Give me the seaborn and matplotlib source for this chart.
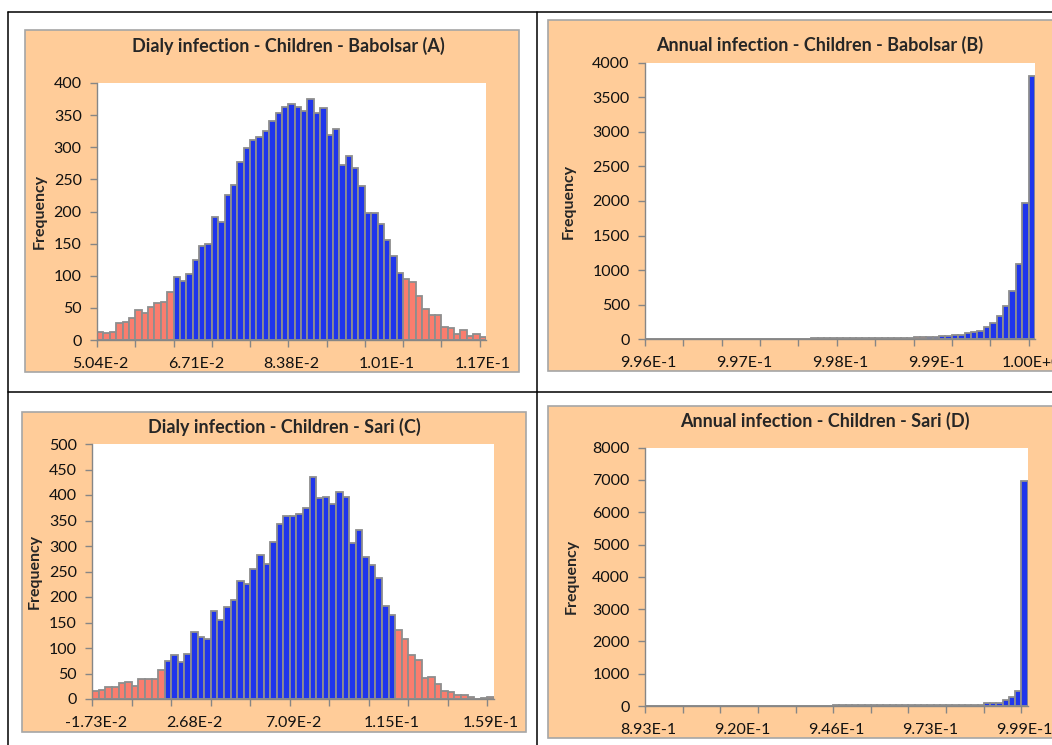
import numpy as np
import pandas as pd
import matplotlib
matplotlib.use('Agg')
import matplotlib.pyplot as plt
import seaborn as sns
from matplotlib.patches import Rectangle
from matplotlib.lines import Line2D

# (A) daily infection - Babolsar
a_title = 'Dialy infection - Children - Babolsar (A)'
a_start, a_step = 0.0504, 0.0167 / 15
a_counts = [13, 11, 13, 26, 28, 35, 46, 42, 51, 57, 59, 75,
            98, 92, 102, 124, 147, 149, 192, 184, 225, 242, 277, 299,
            311, 316, 326, 341, 354, 363, 367, 363, 356, 375, 354, 361,
            319, 328, 272, 287, 268, 240, 198, 197, 181, 155, 131, 104,
            95, 90, 69, 49, 39, 39, 20, 18, 10, 15, 6, 9, 4]
a_tails = (12, 13)
a_xlabels = ['5.04E-2', '6.71E-2', '8.38E-2', '1.01E-1', '1.17E-1']
a_ymax, a_ystep = 400, 50

# (B) annual infection - Babolsar
b_title = 'Annual infection - Children - Babolsar (B)'
b_start, b_step = 0.996, 0.001 / 15
b_counts = [2, 2, 3, 2, 3, 3, 4, 3, 4, 4, 5, 4, 5, 5, 6,
            0,
            6, 7, 6, 7, 8, 8, 9, 10, 10, 11, 12, 12, 13, 14, 15, 16, 17, 18,
            19, 20, 21, 22, 23, 24, 25, 26, 27, 28,
            34, 39, 43, 48, 58, 63, 87, 110, 125, 185, 230, 330, 480, 705,
            1090, 1975, 3810]
b_tails = (44, 0)
b_xlabels = ['9.96E-1', '9.97E-1', '9.98E-1', '9.99E-1', '1.00E+0']
b_ymax, b_ystep = 4000, 500

# (C) daily infection - Sari
c_title = 'Dialy infection - Children - Sari (C)'
c_start, c_step = -0.0173, 0.0441 / 15
c_counts = [16, 18, 24, 24, 32, 34, 26, 40, 40, 40, 57,
            75, 86, 73, 88, 131, 121, 117, 172, 154, 181, 195, 232, 226,
            255, 283, 265, 307, 343, 358, 358, 362, 375, 435, 395, 397, 383,
            405, 396, 305, 331, 279, 262, 238, 182, 165,
            136, 117, 86, 77, 42, 44, 30, 16, 14, 8, 8, 4, 0, 2, 3]
c_tails = (11, 15)
c_xlabels = ['-1.73E-2', '2.68E-2', '7.09E-2', '1.15E-1', '1.59E-1']
c_ymax, c_ystep = 500, 50

# (D) annual infection - Sari
d_title = 'Annual infection - Children - Sari (D)'
d_start, d_step = 0.893, 0.106 / 60
d_counts = [4, 4, 5, 5, 5, 6, 6, 6, 7, 7,
            7, 8, 8, 8, 9, 9, 9, 10, 10, 10,
            11, 11, 12, 12, 13, 13, 14, 14, 15, 15,
            16, 16, 17, 18, 19, 20, 21, 22, 23, 24,
            25, 26, 27, 28, 29, 30, 31, 32, 33, 34, 35,
            25, 28, 30, 90, 92, 80, 178, 275, 470, 6980]
d_tails = (51, 0)
d_xlabels = ['8.93E-1', '9.20E-1', '9.46E-1', '9.73E-1', '9.99E-1']
d_ymax, d_ystep = 8000, 1000

BLUE = '#1f35ec'
PINK = '#fa7d6e'
EDGE = '#8e8e8e'
AXIS = '#868686'
PEACH = '#ffcc99'

sns.set_style('ticks')
plt.rcParams['font.family'] = ['Lato', 'DejaVu Sans']

W, H = 1052, 745
fig = plt.figure(figsize=(W / 100, H / 100), dpi=100)


def fx(x):
    return x / W


def fy(y):
    return 1 - y / H


def draw_panel(box, plot, title_xy, ylab_x, title, start, step, counts,
               tails, xlabels, ymax, ystep):
    # peach chart area
    bx0, by0, bx1, by1 = box
    fig.patches.append(Rectangle((fx(bx0), fy(by1)), fx(bx1 - bx0), (by1 - by0) / H,
                                 transform=fig.transFigure, facecolor=PEACH,
                                 edgecolor='#a6a6a6', linewidth=1.2, zorder=-1))
    px0, py0, px1, py1 = plot
    ax = fig.add_axes([fx(px0), fy(py1), fx(px1 - px0), (py1 - py0) / H])
    ax.set_facecolor('white')

    n = len(counts)
    idx = np.arange(n)
    left, right = tails
    df = pd.DataFrame({'value': start + step * idx, 'count': counts})
    df['part'] = np.where((idx < left) | (idx >= n - right), 'tail', 'body')
    lo, hi = start - step / 2, start + step * (n - 0.5)

    for part, colour in (('tail', PINK), ('body', BLUE)):
        sns.histplot(data=df[df['part'] == part], x='value', weights='count',
                     bins=n, binrange=(lo, hi), color=colour, alpha=1,
                     edgecolor=EDGE, linewidth=1.3, ax=ax)

    ax.set_xlim(lo, hi)
    ax.set_ylim(0, ymax)
    ax.set_yticks(np.arange(0, ymax + 1, ystep))
    ax.set_xticks(df['value'].iloc[::15], xlabels)
    ax.set_xticks(lo + step * np.arange(0, n, 6), minor=True)
    ax.tick_params(axis='x', which='major', length=0, pad=12, labelsize=11.5,
                   labelcolor='#111111')
    ax.tick_params(axis='x', which='minor', length=5, width=1, color=AXIS,
                   direction='out')
    ax.tick_params(axis='y', length=5, width=1, color=AXIS, pad=6,
                   labelsize=11.5, labelcolor='#111111')
    for s in ('top', 'right'):
        ax.spines[s].set_visible(False)
    for s in ('left', 'bottom'):
        ax.spines[s].set_color(AXIS)
        ax.spines[s].set_linewidth(1)
    ax.set_xlabel('')
    ax.set_ylabel('Frequency', fontweight='bold', fontsize=11.5)
    ax.yaxis.set_label_coords((ylab_x - px0) / (px1 - px0), 0.5)
    fig.text(fx(title_xy[0]), fy(title_xy[1]), title, ha='center',
             va='center', fontsize=13, fontweight='bold')
    return ax


draw_panel((25, 30, 519, 372), (97, 83, 486, 340), (288, 46), 47, a_title,
           a_start, a_step, a_counts, a_tails, a_xlabels, a_ymax, a_ystep)
draw_panel((548, 20, 1070, 371), (645, 62.7, 1035, 339.3), (820, 45), 576,
           b_title, b_start, b_step, b_counts, b_tails, b_xlabels,
           b_ymax, b_ystep)
draw_panel((22, 412, 526, 732), (92.3, 444, 494, 699), (284, 427), 42,
           c_title, c_start, c_step, c_counts, c_tails, c_xlabels,
           c_ymax, c_ystep)
draw_panel((548, 406, 1070, 738), (645, 447.7, 1027.7, 706), (825, 421), 579,
           d_title, d_start, d_step, d_counts, d_tails, d_xlabels,
           d_ymax, d_ystep)

# table rules
for (x0, y0, x1, y1) in [(8, 11.7, 1052, 11.7), (8, 11.7, 8, 745),
                         (537.3, 11.7, 537.3, 745), (8, 391.7, 1052, 391.7)]:
    fig.lines.append(Line2D([fx(x0), fx(x1)], [fy(y0), fy(y1)],
                            transform=fig.transFigure, color='black',
                            linewidth=1.1))

fig.savefig('out.png', dpi=100)
